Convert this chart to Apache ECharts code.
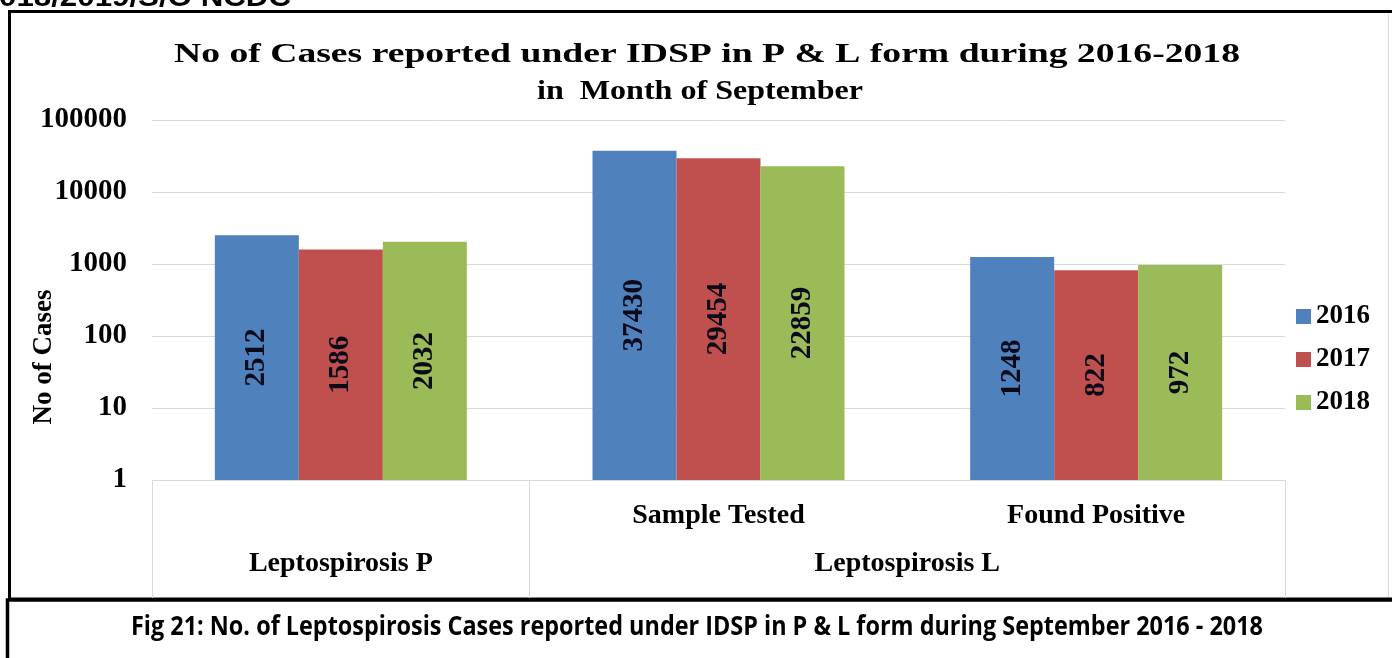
<!DOCTYPE html>
<html>
<head>
<meta charset="utf-8">
<script src="https://cdn.jsdelivr.net/npm/echarts@6/dist/echarts.min.js"></script>
<style>
  html, body { margin: 0; padding: 0; background: #fff; }
  #chart { width: 1392px; height: 658px; }
</style>
</head>
<body>
<div id="chart"></div>
<script>
// data
const categories = ['', 'Sample Tested', 'Found Positive'];
const groupNames = ['Leptospirosis P', 'Leptospirosis L'];
const groupSpans = [1, 2];
const years = ['2016', '2017', '2018'];
const values2016 = [2512, 37430, 1248];
const values2017 = [1586, 29454, 822];
const values2018 = [2032, 22859, 972];
const colors = ['#4f81bd', '#c0504d', '#9bbb59'];

const titleLine1 = 'No of Cases reported under IDSP in P & L form during 2016-2018';
const titleLine2 = 'in  Month of September';
const caption = 'Fig 21: No. of Leptospirosis Cases reported under IDSP in P & L form during September 2016 - 2018';
const headerText = '018/2019/S/O NCDC';

const serif = "'Liberation Serif', 'Times New Roman', serif";

// group centres and separators on a 0..n value scale
let acc = 0;
const groupCenters = [], groupEdges = [0];
groupSpans.forEach(s => { groupCenters.push(acc + s / 2); acc += s; groupEdges.push(acc); });

// text in the picture is stretched sideways, measure and scale to fit
const ctx = document.createElement('canvas').getContext('2d');
function fit(text, font, width) {
  ctx.font = font;
  return width / ctx.measureText(text).width;
}
function stretchedText(text, font, x, y, width) {
  return {
    type: 'text', x: x, y: y, scaleX: fit(text, font, width), z: 10,
    style: { text: text, font: font, fill: '#000', textAlign: 'center', textVerticalAlign: 'middle', align: 'center', verticalAlign: 'middle' }
  };
}

const labelStyle = { fontFamily: serif, fontWeight: 'bold', fontSize: 28, color: '#000' };

function barSeries(name, data, color) {
  return {
    name: name, type: 'bar', data: data, xAxisIndex: 0,
    barWidth: 84, barGap: '0%',
    itemStyle: { color: color },
    label: {
      show: true, position: 'inside', rotate: 90,
      fontFamily: serif, fontWeight: 'bold', fontSize: 29, color: '#0a0a1a'
    }
  };
}

const chart = echarts.init(document.getElementById('chart'));
chart.setOption({
  animation: false,
  grid: { left: 152, right: 107, top: 120, bottom: 178, outerBoundsMode: 'none', containLabel: false },
  legend: {
    data: years, orient: 'vertical', left: 1291, top: 298,
    itemWidth: 15, itemHeight: 15, itemGap: 16, icon: 'rect',
    textStyle: { fontFamily: serif, fontWeight: 'bold', fontSize: 27, color: '#000' }
  },
  xAxis: [
    {
      type: 'category', data: categories, position: 'bottom',
      axisLine: { lineStyle: { color: '#d9d9d9' } },
      axisTick: { show: false },
      axisLabel: Object.assign({ margin: 22, interval: 0 }, labelStyle)
    },
    {
      type: 'value', min: 0, max: acc, position: 'bottom',
      splitLine: { show: false },
      axisLine: { show: false },
      axisTick: { show: true, customValues: groupEdges, length: 118, lineStyle: { color: '#d9d9d9' } },
      axisLabel: Object.assign({
        margin: 70, customValues: groupCenters,
        formatter: v => groupNames[groupCenters.indexOf(v)] || ''
      }, labelStyle)
    }
  ],
  yAxis: {
    type: 'log', logBase: 10, min: 1, max: 100000,
    name: 'No of Cases', nameLocation: 'middle', nameGap: 94, nameRotate: 90, nameMoveOverlap: false,
    nameTextStyle: { fontFamily: serif, fontWeight: 'bold', fontSize: 27, color: '#000', padding: [0, 114, 0, 0] },
    axisLine: { show: false }, axisTick: { show: false },
    splitLine: { lineStyle: { color: '#d9d9d9' } },
    axisLabel: Object.assign({ margin: 25, formatter: v => String(Math.round(v)) }, labelStyle, { fontSize: 29 })
  },
  series: [
    barSeries(years[0], values2016, colors[0]),
    barSeries(years[1], values2017, colors[1]),
    barSeries(years[2], values2018, colors[2])
  ],
  graphic: [
    stretchedText(headerText, 'bold 27px "Liberation Sans", Arial, sans-serif', 145, -1, 292),
    stretchedText(titleLine1, 'bold 27px ' + serif, 707, 55, 1066),
    stretchedText(titleLine2, 'bold 27px ' + serif, 700, 92, 326),
    stretchedText(caption, 'bold 26px "Open Sans", sans-serif', 697, 628, 1132),
    { type: 'line', shape: { x1: 1388.5, y1: 14, x2: 1388.5, y2: 598 }, style: { stroke: '#d9d9d9', lineWidth: 1 } },
    { type: 'rect', shape: { x: 9.5, y: 11.5, width: 1400, height: 587.5 }, style: { fill: null, stroke: '#000', lineWidth: 3 } },
    { type: 'rect', shape: { x: 7.5, y: 600, width: 1400, height: 80 }, style: { fill: null, stroke: '#000', lineWidth: 3.5 } }
  ]
});
</script>
</body>
</html>
